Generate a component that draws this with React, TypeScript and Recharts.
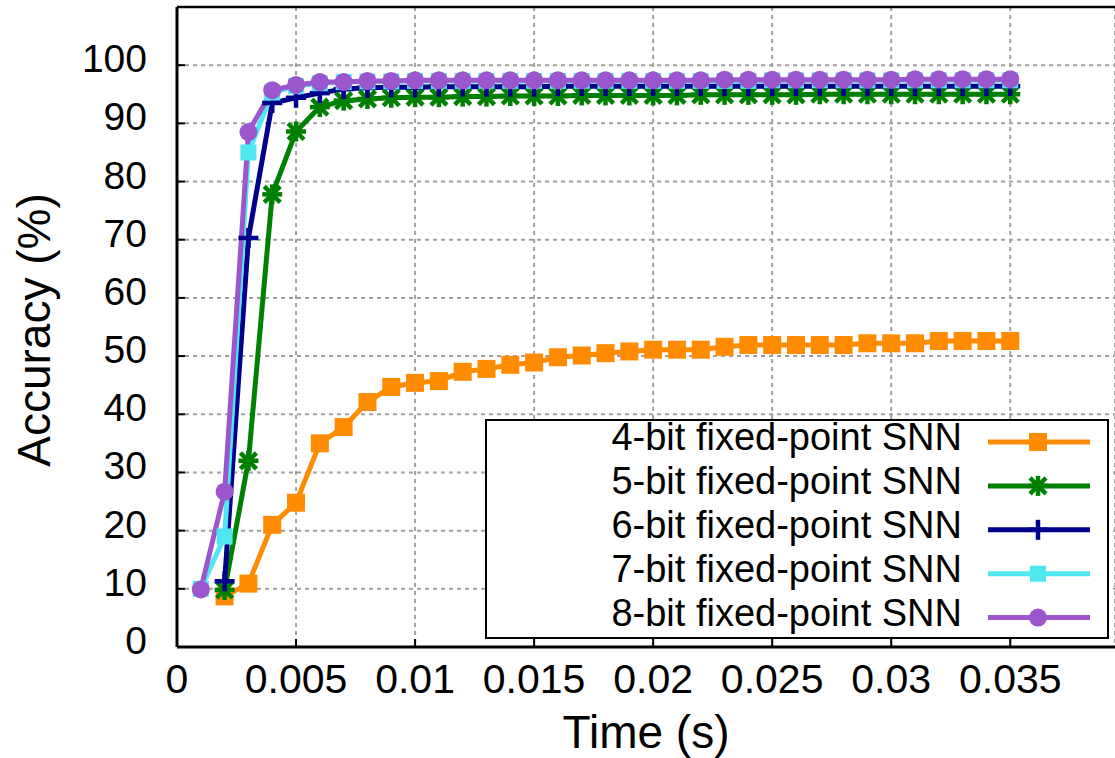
import {
  CartesianGrid,
  Legend,
  Line,
  LineChart,
  ReferenceLine,
  XAxis,
  YAxis,
} from "recharts"

// time axis (s), one sample per millisecond
const TIME = [
  0.001, 0.002, 0.003, 0.004, 0.005, 0.006, 0.007, 0.008, 0.009, 0.01,
  0.011, 0.012, 0.013, 0.014, 0.015, 0.016, 0.017, 0.018, 0.019, 0.02,
  0.021, 0.022, 0.023, 0.024, 0.025, 0.026, 0.027, 0.028, 0.029, 0.03,
  0.031, 0.032, 0.033, 0.034, 0.035,
]

// accuracy (%) per series, null = no sample
const BIT4 = [
  null, 8.7, 10.9, 21, 24.8, 35, 37.8, 42.1, 44.7, 45.4,
  45.7, 47.3, 47.8, 48.5, 48.9, 49.8, 50.1, 50.5, 50.8, 51.1,
  51.1, 51.1, 51.6, 51.9, 51.9, 51.9, 51.9, 51.9, 52.2, 52.2,
  52.2, 52.6, 52.6, 52.6, 52.6,
]
const BIT5 = [
  null, 9.8, 32, 77.8, 88.6, 92.8, 93.9, 94.2, 94.4, 94.5,
  94.5, 94.6, 94.6, 94.7, 94.7, 94.7, 94.8, 94.8, 94.8, 94.8,
  94.8, 94.9, 94.9, 94.9, 94.9, 94.9, 95, 95, 95, 95,
  95, 95, 95, 95, 95,
]
const BIT6 = [
  null, 11.3, 70.3, 93.5, 94.4, 95.2, 95.9, 96.1, 96.2, 96.2,
  96.3, 96.3, 96.3, 96.3, 96.3, 96.4, 96.4, 96.4, 96.4, 96.4,
  96.4, 96.4, 96.4, 96.4, 96.4, 96.4, 96.4, 96.4, 96.4, 96.4,
  96.4, 96.4, 96.4, 96.4, 96.4,
]
const BIT7 = [
  10, 19, 85, 95.3, 96.4, 96.9, 97.1, 97.2, 97.2, 97.3,
  97.3, 97.3, 97.3, 97.3, 97.3, 97.3, 97.3, 97.3, 97.3, 97.3,
  97.3, 97.3, 97.3, 97.3, 97.4, 97.4, 97.4, 97.4, 97.4, 97.4,
  97.4, 97.4, 97.4, 97.4, 97.4,
]
const BIT8 = [
  9.9, 26.7, 88.5, 95.7, 96.6, 97.1, 97.1, 97.3, 97.3, 97.4,
  97.4, 97.4, 97.4, 97.4, 97.4, 97.4, 97.4, 97.4, 97.4, 97.4,
  97.4, 97.4, 97.5, 97.5, 97.5, 97.5, 97.5, 97.5, 97.5, 97.5,
  97.6, 97.6, 97.6, 97.6, 97.6,
]

const NAMES = [
  "4-bit fixed-point SNN",
  "5-bit fixed-point SNN",
  "6-bit fixed-point SNN",
  "7-bit fixed-point SNN",
  "8-bit fixed-point SNN",
]

const X_TICKS = [0, 0.005, 0.01, 0.015, 0.02, 0.025, 0.03, 0.035]
const Y_TICKS = [0, 10, 20, 30, 40, 50, 60, 70, 80, 90, 100]

const FONT = '"Liberation Sans", Arial, Helvetica, sans-serif'

type Shape = "square" | "star" | "plus" | "smallSquare" | "circle"

const SERIES: { key: string; name: string; values: (number | null)[]; color: string; shape: Shape }[] = [
  { key: "b4", name: NAMES[0], values: BIT4, color: "#ff8c00", shape: "square" },
  { key: "b5", name: NAMES[1], values: BIT5, color: "#008000", shape: "star" },
  { key: "b6", name: NAMES[2], values: BIT6, color: "#00008b", shape: "plus" },
  { key: "b7", name: NAMES[3], values: BIT7, color: "#50e8f0", shape: "smallSquare" },
  { key: "b8", name: NAMES[4], values: BIT8, color: "#9b55cd", shape: "circle" },
]

function Marker({ shape, cx, cy, color }: { shape: Shape; cx: number; cy: number; color: string }) {
  if (cx == null || cy == null || isNaN(cx) || isNaN(cy)) return <g />
  switch (shape) {
    case "square":
      return <rect x={cx - 9} y={cy - 9} width={18} height={18} fill={color} />
    case "smallSquare":
      return <rect x={cx - 8} y={cy - 8} width={16} height={16} fill={color} />
    case "circle":
      return <circle cx={cx} cy={cy} r={9} fill={color} />
    case "plus":
      return (
        <g stroke={color} strokeWidth={4.5}>
          <line x1={cx - 10} y1={cy} x2={cx + 10} y2={cy} />
          <line x1={cx} y1={cy - 10} x2={cx} y2={cy + 10} />
        </g>
      )
    case "star":
      return (
        <g stroke={color} strokeWidth={4.5}>
          <line x1={cx - 8} y1={cy - 8} x2={cx + 8} y2={cy + 8} />
          <line x1={cx - 8} y1={cy + 8} x2={cx + 8} y2={cy - 8} />
          <line x1={cx} y1={cy - 10} x2={cx} y2={cy + 10} />
          <line x1={cx - 10} y1={cy} x2={cx + 10} y2={cy} />
        </g>
      )
  }
}

function XTick({ x, y, payload }: any) {
  return (
    <text x={x} y={y + 46} textAnchor="middle" fontFamily={FONT} fontSize={41} fill="#000">
      {payload.value}
    </text>
  )
}

function YTick({ x, y, payload }: any) {
  return (
    <text x={x - 30} y={y + 7} textAnchor="end" fontFamily={FONT} fontSize={39} fill="#000">
      {payload.value}
    </text>
  )
}

function KeyBox() {
  return (
    <svg width={624} height={220} style={{ display: "block", overflow: "visible" }}>
      <rect x={1} y={1} width={622} height={218} fill="#fff" stroke="#000" strokeWidth={2} />
      {SERIES.map((s, i) => {
        const cy = 23 + i * 43.9
        return (
          <g key={s.key}>
            <text x={477} y={cy + 8} textAnchor="end" fontFamily={FONT} fontSize={38} fill="#000">
              {s.name}
            </text>
            <line x1={503} y1={cy} x2={605} y2={cy} stroke={s.color} strokeWidth={5} />
            <Marker shape={s.shape} cx={553} cy={cy} color={s.color} />
          </g>
        )
      })}
    </svg>
  )
}

export default function App() {
  return (
    <div>
      <style>{"body{margin:0}"}</style>
      <LineChart width={1115} height={758} margin={{ top: 7, right: 0, bottom: 0, left: 0 }}>
        <CartesianGrid stroke="#a0a0a0" strokeDasharray="4 4" strokeWidth={2} />
        <XAxis
          dataKey="t"
          type="number"
          domain={[0, 0.0394]}
          allowDataOverflow
          ticks={X_TICKS}
          interval={0}
          height={111}
          tickSize={-8}
          tickMargin={8}
          tick={<XTick />}
          axisLine={{ stroke: "#000", strokeWidth: 3 }}
          tickLine={{ stroke: "#000", strokeWidth: 2 }}
          label={{
            value: "Time (s)",
            position: "insideBottom",
            offset: 10,
            style: { fontFamily: FONT, fontSize: 46, fill: "#000" },
          }}
        />
        <YAxis
          type="number"
          domain={[0, 110]}
          allowDataOverflow
          ticks={Y_TICKS}
          interval={0}
          width={177}
          tickSize={-8}
          tickMargin={8}
          tick={<YTick />}
          axisLine={{ stroke: "#000", strokeWidth: 3 }}
          tickLine={{ stroke: "#000", strokeWidth: 2 }}
          label={{
            content: ({ viewBox }: any) => (
              <text
                transform={`translate(${viewBox.x + 50},${viewBox.y + viewBox.height / 2 + 3}) rotate(-90)`}
                textAnchor="middle"
                fontFamily={FONT}
                fontSize={46}
                fill="#000"
              >
                Accuracy (%)
              </text>
            ),
          }}
        />
        <ReferenceLine y={110} stroke="#000" strokeWidth={2.5} ifOverflow="visible" />
        {SERIES.map((s) => (
          <Line
            key={s.key}
            name={s.name}
            data={TIME.map((t, i) => ({ t, v: s.values[i] })).filter((d) => d.v != null)}
            dataKey="v"
            type="linear"
            stroke={s.color}
            strokeWidth={5}
            dot={(p: any) => (
              <Marker key={`${s.key}-${p.index}`} shape={s.shape} cx={p.cx} cy={p.cy} color={s.color} />
            )}
            activeDot={false}
            isAnimationActive={false}
          />
        ))}
        <Legend
          layout="horizontal"
          verticalAlign="middle"
          align="center"
          wrapperStyle={{ left: 485, top: 419, width: 624, height: 220, overflow: "visible" }}
          content={() => <KeyBox />}
        />
      </LineChart>
    </div>
  )
}
